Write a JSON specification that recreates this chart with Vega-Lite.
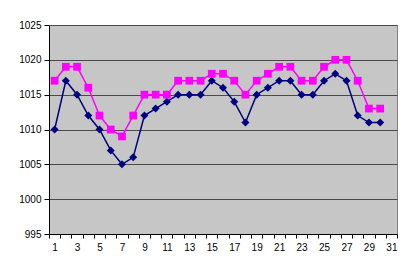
{
  "$schema": "https://vega.github.io/schema/vega-lite/v6.json",
  "width": 348,
  "height": 209,
  "autosize": {"type": "none"},
  "padding": {"left": 49, "top": 25, "right": 15, "bottom": 43},
  "background": "white",
  "config": {
    "view": {"fill": "#c6c6c6", "stroke": "#808080", "strokeWidth": 1},
    "font": "Liberation Sans",
    "axis": {"labelFont": "Liberation Sans", "labelFontSize": 10, "labelColor": "#000000", "labelOverlap": false}
  },
  "data": {
    "values": [
      {"day": 1, "series": "A", "value": 1010}, {"day": 2, "series": "A", "value": 1017}, {"day": 3, "series": "A", "value": 1015},
      {"day": 4, "series": "A", "value": 1012}, {"day": 5, "series": "A", "value": 1010}, {"day": 6, "series": "A", "value": 1007},
      {"day": 7, "series": "A", "value": 1005}, {"day": 8, "series": "A", "value": 1006}, {"day": 9, "series": "A", "value": 1012},
      {"day": 10, "series": "A", "value": 1013}, {"day": 11, "series": "A", "value": 1014}, {"day": 12, "series": "A", "value": 1015},
      {"day": 13, "series": "A", "value": 1015}, {"day": 14, "series": "A", "value": 1015}, {"day": 15, "series": "A", "value": 1017},
      {"day": 16, "series": "A", "value": 1016}, {"day": 17, "series": "A", "value": 1014}, {"day": 18, "series": "A", "value": 1011},
      {"day": 19, "series": "A", "value": 1015}, {"day": 20, "series": "A", "value": 1016}, {"day": 21, "series": "A", "value": 1017},
      {"day": 22, "series": "A", "value": 1017}, {"day": 23, "series": "A", "value": 1015}, {"day": 24, "series": "A", "value": 1015},
      {"day": 25, "series": "A", "value": 1017}, {"day": 26, "series": "A", "value": 1018}, {"day": 27, "series": "A", "value": 1017},
      {"day": 28, "series": "A", "value": 1012}, {"day": 29, "series": "A", "value": 1011}, {"day": 30, "series": "A", "value": 1011},
      {"day": 1, "series": "B", "value": 1017}, {"day": 2, "series": "B", "value": 1019}, {"day": 3, "series": "B", "value": 1019},
      {"day": 4, "series": "B", "value": 1016}, {"day": 5, "series": "B", "value": 1012}, {"day": 6, "series": "B", "value": 1010},
      {"day": 7, "series": "B", "value": 1009}, {"day": 8, "series": "B", "value": 1012}, {"day": 9, "series": "B", "value": 1015},
      {"day": 10, "series": "B", "value": 1015}, {"day": 11, "series": "B", "value": 1015}, {"day": 12, "series": "B", "value": 1017},
      {"day": 13, "series": "B", "value": 1017}, {"day": 14, "series": "B", "value": 1017}, {"day": 15, "series": "B", "value": 1018},
      {"day": 16, "series": "B", "value": 1018}, {"day": 17, "series": "B", "value": 1017}, {"day": 18, "series": "B", "value": 1015},
      {"day": 19, "series": "B", "value": 1017}, {"day": 20, "series": "B", "value": 1018}, {"day": 21, "series": "B", "value": 1019},
      {"day": 22, "series": "B", "value": 1019}, {"day": 23, "series": "B", "value": 1017}, {"day": 24, "series": "B", "value": 1017},
      {"day": 25, "series": "B", "value": 1019}, {"day": 26, "series": "B", "value": 1020}, {"day": 27, "series": "B", "value": 1020},
      {"day": 28, "series": "B", "value": 1017}, {"day": 29, "series": "B", "value": 1013}, {"day": 30, "series": "B", "value": 1013}
    ]
  },
  "resolve": {"axis": {"x": "independent"}},
  "layer": [
    {
      "mark": {"type": "line", "strokeWidth": 1.5},
      "encoding": {
        "x": {
          "field": "day", "type": "quantitative",
          "scale": {"domain": [0.5, 31.5], "nice": false, "zero": false},
          "axis": {"orient": "bottom", "title": null, "values": [1, 3, 5, 7, 9, 11, 13, 15, 17, 19, 21, 23, 25, 27, 29, 31], "tickCount": 50, "ticks": false, "domain": false, "grid": false, "labelPadding": 8, "labelFlush": false, "format": "d"}
        },
        "y": {
          "field": "value", "type": "quantitative",
          "scale": {"domain": [995, 1025], "nice": false, "zero": false},
          "axis": {"title": null, "values": [995, 1000, 1005, 1010, 1015, 1020, 1025], "tickCount": 20, "format": "d", "grid": true, "gridColor": "#4a4a4a", "gridWidth": 1.2, "gridOpacity": 1, "tickSize": 5, "tickColor": "#000000", "domainColor": "#000000", "labelPadding": 3, "labelFlush": false}
        },
        "color": {"field": "series", "type": "nominal", "scale": {"domain": ["A", "B"], "range": ["#000080", "#ff00ff"]}, "legend": null}
      }
    },
    {
      "mark": {"type": "point", "filled": true, "opacity": 1},
      "encoding": {
        "x": {
          "field": "day", "type": "quantitative",
          "axis": {"orient": "bottom", "title": null, "values": [0.5, 1.5, 2.5, 3.5, 4.5, 5.5, 6.5, 7.5, 8.5, 9.5, 10.5, 11.5, 12.5, 13.5, 14.5, 15.5, 16.5, 17.5, 18.5, 19.5, 20.5, 21.5, 22.5, 23.5, 24.5, 25.5, 26.5, 27.5, 28.5, 29.5, 30.5, 31.5], "tickCount": 50, "labels": false, "grid": false, "tickSize": 4, "tickColor": "#000000", "domainColor": "#000000"}
        },
        "y": {"field": "value", "type": "quantitative"},
        "color": {"field": "series", "type": "nominal", "legend": null},
        "shape": {"field": "series", "type": "nominal", "scale": {"domain": ["A", "B"], "range": ["diamond", "square"]}, "legend": null},
        "size": {"field": "series", "type": "nominal", "scale": {"domain": ["A", "B"], "range": [64, 60]}, "legend": null}
      }
    }
  ]
}
